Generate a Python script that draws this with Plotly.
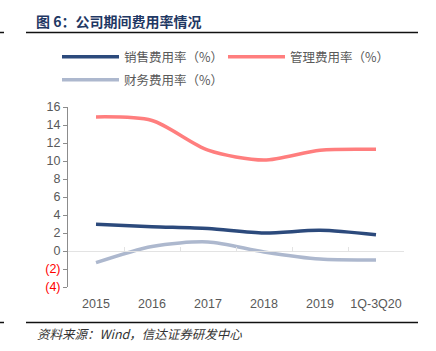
import plotly.graph_objects as go

categories = ["2015", "2016", "2017", "2018", "2019", "1Q-3Q20"]
sales_rate = [2.97, 2.7, 2.5, 2.0, 2.3, 1.8]
admin_rate = [14.9, 14.5, 11.2, 10.1, 11.2, 11.3]
finance_rate = [-1.3, 0.5, 1.0, -0.1, -0.9, -1.0]

series_names = ["销售费用率（%）", "管理费用率（%）", "财务费用率（%）"]
colors = ["#2C4A7C", "#FF7E7E", "#ADB8CE"]
legend_ids = ["legend", "legend", "legend2"]

y_tickvals = [16, 14, 12, 10, 8, 6, 4, 2, 0, -2, -4]
y_ticktext = ["16", "14", "12", "10", "8", "6", "4", "2", "0",
              "<span style='color:#FF0000'>(2)</span>",
              "<span style='color:#FF0000'>(4)</span>"]

CJK = "Noto Sans CJK SC"
NUM = "Liberation Sans, Arial, " + CJK

fig = go.Figure()
for name, vals, col, lg in zip(series_names, [sales_rate, admin_rate, finance_rate], colors, legend_ids):
    fig.add_trace(go.Scatter(
        x=categories, y=vals, name=name, mode="lines", legend=lg,
        line=dict(color=col, width=3.5, shape="spline", smoothing=0.8),
    ))

ITEMW = 57


def legend_at(top_px):
    return dict(
        orientation="h", x=57 / 436.0, y=1 - top_px / 351.0, xref="container", yref="container",
        xanchor="left", yanchor="middle",
        entrywidth=166 - ITEMW - 15, entrywidthmode="pixels",
        itemwidth=ITEMW,
        font=dict(family=CJK, size=12.5, color="#595959"),
        bgcolor="rgba(0,0,0,0)",
    )


fig.update_layout(
    width=436, height=351,
    margin=dict(l=68, r=32, t=107, b=64, autoexpand=False),
    paper_bgcolor="white", plot_bgcolor="white",
    showlegend=True,
    legend=legend_at(57),
    legend2=legend_at(80),
    xaxis=dict(
        type="category", range=[-0.5, 5.5],
        anchor="free", position=0.2,
        showline=True, linecolor="#E3E3E3", linewidth=1,
        ticks="inside", ticklen=4, tickcolor="#E3E3E3", tickson="boundaries",
        ticklabelstandoff=41, tickangle=0,
        showgrid=False, zeroline=False,
        tickfont=dict(family=NUM, size=12.5, color="#595959"),
    ),
    yaxis=dict(
        range=[-4, 16], tickvals=y_tickvals, ticktext=y_ticktext,
        showline=True, linecolor="#8C8C8C", linewidth=1,
        ticks="outside", ticklen=4, tickcolor="#8C8C8C",
        showgrid=False, zeroline=False,
        tickfont=dict(family=NUM, size=12.5, color="#595959"),
    ),
)

# Title and source text, with rules
fig.add_annotation(
    text="<b>图 6：公司期间费用率情况</b>", xref="paper", yref="paper",
    x=-0.102, y=1.0 + (107 - 21) / 180.0, xanchor="left", yanchor="middle",
    showarrow=False, font=dict(family=CJK, size=14, color="#1F3864"),
)
fig.add_annotation(
    text="<i>资料来源：Wind，信达证券研发中心</i>", xref="paper", yref="paper",
    x=-0.098, y=-(333 - 287) / 180.0, xanchor="left", yanchor="middle",
    showarrow=False, font=dict(family=CJK, size=12.5, color="#333333"),
)
for ypix in [32.5, 322.5]:
    fig.add_shape(type="line", xref="paper", yref="paper",
                  x0=(26 - 68) / 336.0, x1=(418 - 68) / 336.0,
                  y0=(287 - ypix) / 180.0, y1=(287 - ypix) / 180.0,
                  line=dict(color="#111111", width=1.5))
    fig.add_shape(type="line", xref="paper", yref="paper",
                  x0=(0 - 68) / 336.0, x1=(4 - 68) / 336.0,
                  y0=(287 - ypix) / 180.0, y1=(287 - ypix) / 180.0,
                  line=dict(color="#111111", width=1.5))

fig.write_html("out.html")
